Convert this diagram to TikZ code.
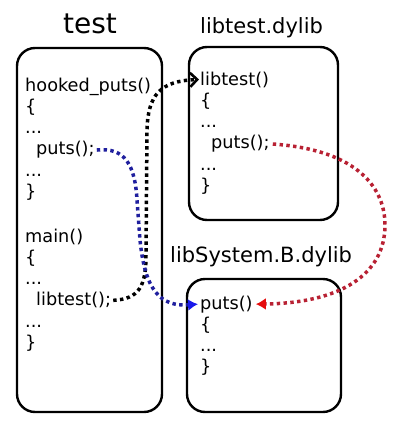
\documentclass[tikz,border=0pt]{standalone}
\usepackage{fontspec}
\setmainfont{DejaVu Sans}
\usetikzlibrary{arrows.meta}
\definecolor{dotblue}{rgb}{0.12,0.12,0.62}
\definecolor{tipblue}{rgb}{0.1,0.1,0.92}
\definecolor{dotred}{rgb}{0.72,0.13,0.2}
\definecolor{tipred}{rgb}{0.9,0.05,0.05}
\tikzset{
  box/.style={draw=black,line width=2.4pt,rounded corners=18pt},
  code/.style={anchor=base west,inner sep=0pt,font=\fontsize{17.7}{21}\selectfont},
  title/.style={anchor=base west,inner sep=0pt,font=\fontsize{21}{25}\selectfont},
  dots/.style={line width=3.5pt,dash pattern=on 3.4pt off 3.4pt},
}
\begin{document}
\begin{tikzpicture}[x=1pt,y=-1pt]
\useasboundingbox (0,0) rectangle (400,429);
% boxes
\draw[box] (17,48) rectangle (162,412);
\draw[box] (189,47) rectangle (338,220);
\draw[box] (187,279) rectangle (341,412);
% titles
\node[anchor=base,inner sep=0pt,font=\fontsize{28}{32}\selectfont] (ttest) at (90,33) {test};
\node[title] (tlib) at (200,33) {libtest.dylib};
\node[title] (tsys) at (170,262) {libSystem.B.dylib};
% test code
\node[code] (h1) at (25,91) {hooked\_puts()};
\node[code] (h2) at (25,112.3) {\{};
\node[code] (h3) at (25,133.6) {...};
\node[code] (hp) at (36,154.9) {puts();};
\node[code] (h5) at (25,176.2) {...};
\node[code] (h6) at (25,197.5) {\}};
\node[code] (m1) at (25,242) {main()};
\node[code] (m2) at (25,263.3) {\{};
\node[code] (m3) at (25,284.6) {...};
\node[code] (ml) at (36,305.9) {libtest();};
\node[code] (m5) at (25,327.2) {...};
\node[code] (m6) at (25,348.5) {\}};
% libtest code
\node[code] (lf) at (200,85) {libtest()};
\node[code] (l2) at (200,106.3) {\{};
\node[code] (l3) at (200,127.6) {...};
\node[code] (lp) at (211,148.9) {puts();};
\node[code] (l5) at (200,170.2) {...};
\node[code] (l6) at (200,191.5) {\}};
% libSystem code
\node[code] (sp) at (200,309) {puts()};
\node[code] (s2) at (200,330.3) {\{};
\node[code] (s3) at (200,351.6) {...};
\node[code] (s4) at (200,372.9) {\}};
% connectors
\draw[dots,black,-{Straight Barb[length=7pt,width=14pt,line width=2.6pt]}]
  ([xshift=2pt]ml.east) .. controls (140,299) and (146,285) .. (146,255)
  -- (147,130) .. controls (148,95) and (160,81) .. ([xshift=-1pt]lf.west);
\draw[dots,dotblue,-{Latex[length=10pt,width=12pt,color=tipblue]}]
  ([xshift=2pt]hp.east) .. controls (125,147) and (135,165) .. (137,200)
  -- (140,240) .. controls (145,290) and (160,307) .. ([xshift=-2pt]sp.west);
\draw[dots,dotred,-{Latex[length=10pt,width=12pt,color=tipred]}]
  ([xshift=3pt]lp.east) .. controls (360,150) and (385,190) .. (385,225)
  .. controls (385,275) and (340,303) .. ([xshift=3pt]sp.east);
\end{tikzpicture}
\end{document}
